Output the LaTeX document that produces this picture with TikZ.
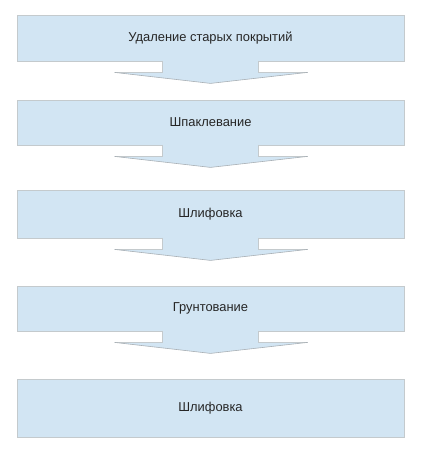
\documentclass[tikz,border=0pt]{standalone}
\usepackage{fontspec}
\setmainfont{Liberation Sans}
\definecolor{boxfill}{HTML}{D2E5F3}
\definecolor{boxline}{HTML}{C4CACD}
\definecolor{headline}{HTML}{A9B0B5}
\begin{document}
\begin{tikzpicture}[x=1pt,y=-1pt,
  stepbox/.style={draw=boxline,fill=boxfill,line width=0.8pt,minimum width=387pt,inner sep=0pt,font=\fontsize{12.9}{15}\selectfont,text=black!85}]
\useasboundingbox (0,0) rectangle (424,449);
\fill[white] (0,0) rectangle (424,449);
\node[stepbox,minimum height=46pt] (b1) at (210.5,38) {Удаление старых покрытий};
\node[stepbox,minimum height=45pt] (b2) at (210.5,122.5) {Шпаклевание};
\node[stepbox,minimum height=48pt] (b3) at (210.5,214) {Шлифовка};
\node[stepbox,minimum height=45pt] (b4) at (210.5,308.5) {Грунтование};
\node[stepbox,minimum height=58pt] (b5) at (210.5,408) {Шлифовка};
\foreach \b/\n in {b1/a1,b2/a2,b3/a3,b4/a4}{
  \coordinate (\n tip) at ([yshift=-22pt]\b.south);
  \coordinate (\n sl) at ([xshift=-48pt,yshift=1pt]\b.south);
  \coordinate (\n sr) at ([xshift=48pt,yshift=1pt]\b.south);
  \coordinate (\n nl) at ([xshift=-48pt,yshift=-11pt]\b.south);
  \coordinate (\n nr) at ([xshift=48pt,yshift=-11pt]\b.south);
  \coordinate (\n hl) at ([xshift=-96pt,yshift=-11pt]\b.south);
  \coordinate (\n hr) at ([xshift=97pt,yshift=-11pt]\b.south);
  \fill[boxfill] (\n sl) -- (\n nl) -- (\n hl) -- (\n tip) -- (\n hr) -- (\n nr) -- (\n sr) -- cycle;
  \draw[boxline,line width=0.8pt] ([yshift=-0.4pt]\n sl) -- (\n nl) -- (\n hl);
  \draw[boxline,line width=0.8pt] ([yshift=-0.4pt]\n sr) -- (\n nr) -- (\n hr);
  \draw[headline,line width=0.6pt] (\n hl) -- (\n tip) -- (\n hr);
}
\end{tikzpicture}
\end{document}
